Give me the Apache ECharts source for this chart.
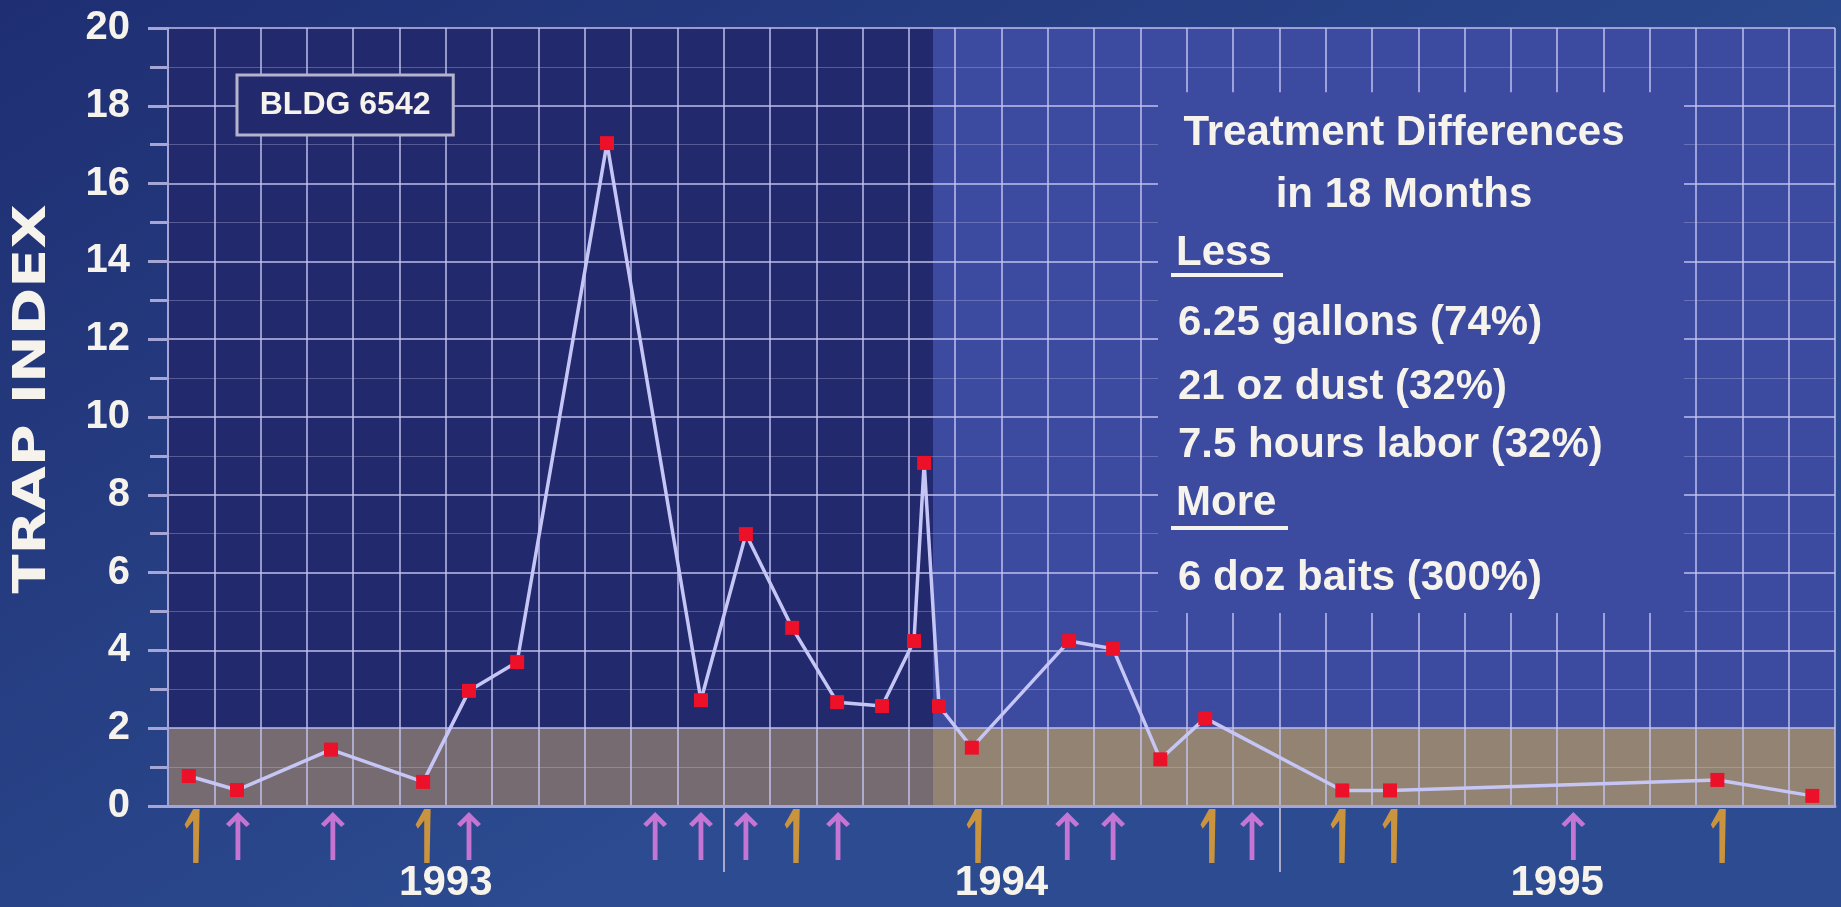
<!DOCTYPE html>
<html><head><meta charset="utf-8">
<script src="https://cdn.jsdelivr.net/npm/echarts@6/dist/echarts.min.js"></script>
<style>html,body{margin:0;padding:0;background:#25407f;}#c{width:1841px;height:907px;}</style>
</head><body><div id="c"></div>
<script>
// ---- data (x in months from start of 1993) ----
const pointMonths = [0.45,1.49,3.52,5.51,6.50,7.54,9.48,11.51,12.48,13.48,14.45,15.42,16.11,16.33,16.65,17.36,19.46,20.41,21.43,22.40,25.36,26.39,33.46,35.51];
const trapIndex   = [0.77,0.41,1.45,0.62,2.96,3.70,17.04,2.72,6.99,4.58,2.67,2.57,4.24,8.82,2.57,1.50,4.24,4.04,1.20,2.26,0.40,0.40,0.67,0.26];
const orangeArrowMonths = [0.52,5.51,13.48,17.41,22.46,25.27,26.39,33.48];
const pinkArrowMonths   = [1.51,3.56,6.50,10.52,11.51,12.48,14.47,19.42,20.41,23.41,30.35];
const yearLabels  = ['1993','1994','1995'];
const yearCenters = [6,18,30];
const yearBreaks  = [12,24];
const treatmentChangeMonth = 16.52;
const thresholdValue = 2;
const yAxisTitle = 'TRAP INDEX';
const buildingName = 'BLDG 6542';
const boxTitle = ['Treatment Differences','in 18 Months'];
const lessHeader = 'Less';
const lessItems = ['6.25 gallons (74%)','21 oz dust (32%)','7.5 hours labor (32%)'];
const moreHeader = 'More';
const moreItems = ['6 doz baits (300%)'];

const FONT = '"Liberation Sans", Arial, sans-serif';
const DARK = '#23296d', LIGHT = '#3c4ba0', BAND_DARK = '#776b72', BAND_LIGHT = '#938372';
const GRIDC = 'rgba(196,196,240,0.72)';
const WHITE = '#f6f3ec';

const chart = echarts.init(document.getElementById('c'));
const txt = (text, x, y, align) => ({type:'text', z:50, x, y,
  style:{text, fill:WHITE, font:'bold 42px ' + FONT, textAlign:align, textVerticalAlign:'middle'}});

const option = {
  backgroundColor: {type:'linear', x:0, y:0, x2:0.3, y2:1, colorStops:[{offset:0,color:'#1f2e72'},{offset:1,color:'#2c4b90'}]},
  textStyle:{fontFamily:FONT},
  grid:[
    {left:168, right:6, top:28, bottom:101},
    {left:168, right:6, top:808, height:56}
  ],
  xAxis:[
    {type:'value', gridIndex:0, min:0, max:36, interval:1, z:2,
     axisLine:{show:true, lineStyle:{color:'#a6a6d6', width:3}},
     axisTick:{show:false}, axisLabel:{show:false},
     splitLine:{show:true, lineStyle:{color:GRIDC, width:2}}},
    {type:'value', gridIndex:1, min:0, max:36, show:false},
    {type:'value', gridIndex:0, position:'bottom', min:0, max:36, z:2,
     axisLine:{show:false},
     axisTick:{show:true, customValues:yearBreaks, length:66, lineStyle:{color:'#a8a8c8', width:2}},
     axisLabel:{show:true, customValues:yearCenters, margin:56, color:WHITE, fontSize:42, fontWeight:'bold', fontFamily:FONT,
       formatter:v => yearLabels[yearCenters.indexOf(Math.round(v))] || ''},
     splitLine:{show:false}}
  ],
  yAxis:[
    {type:'value', gridIndex:0, min:0, max:20, interval:2, z:2,
     axisLine:{show:true, lineStyle:{color:'#a6a6d6', width:2}},
     axisTick:{show:true, length:20, lineStyle:{color:'#a6a6d6', width:3}},
     minorTick:{show:true, splitNumber:2, length:18, lineStyle:{color:'#a6a6d6', width:3}},
     axisLabel:{margin:38, color:WHITE, fontSize:40, fontWeight:'bold', fontFamily:FONT},
     splitLine:{show:true, lineStyle:{color:GRIDC, width:2}},
     minorSplitLine:{show:true, lineStyle:{color:'rgba(196,196,240,0.32)', width:1}}},
    {type:'value', gridIndex:1, min:0, max:1, show:false}
  ],
  series:[
    {type:'line', name:'bg', data:[], z:1, silent:true,
     markArea:{silent:true, z:1, data:[
       [{xAxis:0, yAxis:thresholdValue, itemStyle:{color:DARK}}, {xAxis:treatmentChangeMonth, yAxis:20}],
       [{xAxis:treatmentChangeMonth, yAxis:thresholdValue, itemStyle:{color:LIGHT}}, {xAxis:36, yAxis:20}],
       [{xAxis:0, yAxis:0, itemStyle:{color:BAND_DARK}}, {xAxis:treatmentChangeMonth, yAxis:thresholdValue}],
       [{xAxis:treatmentChangeMonth, yAxis:0, itemStyle:{color:BAND_LIGHT}}, {xAxis:36, yAxis:thresholdValue}]
     ]}},
    {type:'line', name:'boxes', data:[], z:4, silent:true,
     markArea:{silent:true, z:4, data:[
       [{xAxis:21.38, yAxis:4.96, itemStyle:{color:LIGHT}}, {xAxis:32.74, yAxis:18.35}],
       [{xAxis:1.49, yAxis:17.25, name:buildingName, itemStyle:{color:DARK, borderColor:'#b4b4cc', borderWidth:3},
         label:{show:true, position:'inside', color:WHITE, fontSize:32, fontWeight:'bold', fontFamily:FONT}},
        {xAxis:6.16, yAxis:18.79}]
     ]}},
    {type:'line', name:'Trap index', z:6, data:pointMonths.map((m,i)=>[m, trapIndex[i]]),
     symbol:'rect', symbolSize:14, showAllSymbol:true,
     itemStyle:{color:'#ec1028'}, lineStyle:{color:'#c6c6f6', width:3.5}},
    {type:'scatter', xAxisIndex:1, yAxisIndex:1, z:6, clip:false,
     data:pinkArrowMonths.map(m=>[m,0.5]),
     symbol:'path://M0,12 L10,0 L20,12 L17,15 L12,9 L12,48 L8,48 L8,9 L3,15 Z', symbolSize:[24,48],
     itemStyle:{color:'#ec80e4'}},
    {type:'scatter', xAxisIndex:1, yAxisIndex:1, z:6, clip:false,
     data:orangeArrowMonths.map(m=>[m,0.5]),
     symbol:'path://M8,0 L14,0 L13,52 L8,52 L8,11 L2,19 L0,15 Z', symbolSize:[15,54],
     itemStyle:{color:'#f2a62a'}}
  ],
  graphic:[
    {type:'text', z:50, x:34, y:399, rotation:Math.PI/2, scaleX:1.3,
     style:{text:yAxisTitle, fill:WHITE, font:'bold 44px "DejaVu Sans", sans-serif', textAlign:'center', textVerticalAlign:'middle'}},
    txt(boxTitle[0], 1404, 133, 'center'),
    txt(boxTitle[1], 1404, 195, 'center'),
    txt(lessHeader, 1176, 253, 'left'),
    txt(lessItems[0], 1178, 323, 'left'),
    txt(lessItems[1], 1178, 387, 'left'),
    txt(lessItems[2], 1178, 445, 'left'),
    txt(moreHeader, 1176, 503, 'left'),
    txt(moreItems[0], 1178, 578, 'left'),
    {type:'rect', z:50, shape:{x:1171, y:273, width:112, height:4}, style:{fill:WHITE}},
    {type:'rect', z:50, shape:{x:1171, y:526, width:117, height:4}, style:{fill:WHITE}}
  ]
};
chart.setOption(option);
</script></body></html>
